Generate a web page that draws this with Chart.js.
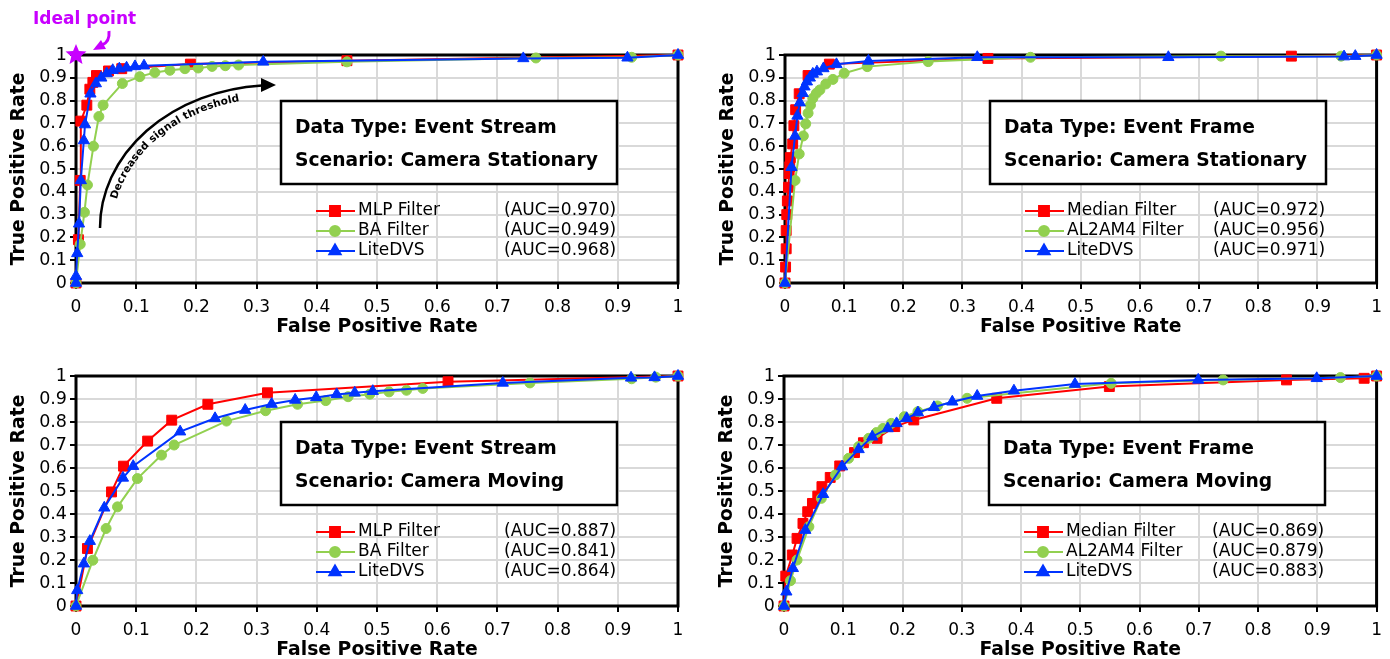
<!DOCTYPE html>
<html>
<head>
<meta charset="utf-8">
<script src="https://cdn.jsdelivr.net/npm/chart.js@4.4.1/dist/chart.umd.min.js"></script>
<style>
  html, body { margin: 0; padding: 0; background: #fff; overflow: hidden; }
  .panel { position: absolute; }
</style>
</head>
<body>
<canvas id="c1" class="panel" width="695" height="340" style="left:0;top:0"></canvas>
<canvas id="c2" class="panel" width="695" height="340" style="left:695px;top:0"></canvas>
<canvas id="c3" class="panel" width="695" height="323" style="left:0;top:340px"></canvas>
<canvas id="c4" class="panel" width="695" height="323" style="left:695px;top:340px"></canvas>
<script>
const tickLabels = ['0', '0.1', '0.2', '0.3', '0.4', '0.5', '0.6', '0.7', '0.8', '0.9', '1'];

// Event Stream, camera stationary
const s1MlpFpr = [0, 0.004, 0.007, 0.008, 0.018, 0.023, 0.028, 0.034, 0.054, 0.076, 0.19, 0.45, 1];
const s1MlpTpr = [0, 0.19, 0.45, 0.71, 0.78, 0.85, 0.88, 0.91, 0.93, 0.94, 0.96, 0.975, 1];
const s1BaFpr = [0, 0.007, 0.014, 0.019, 0.029, 0.038, 0.045, 0.077, 0.106, 0.131, 0.156, 0.181, 0.203, 0.226, 0.248, 0.27, 0.45, 0.764, 0.923, 1];
const s1BaTpr = [0, 0.17, 0.31, 0.43, 0.60, 0.73, 0.78, 0.875, 0.905, 0.923, 0.933, 0.94, 0.943, 0.95, 0.953, 0.956, 0.97, 0.987, 0.99, 1];
const s1LiteFpr = [0, 0, 0.002, 0.005, 0.008, 0.013, 0.015, 0.024, 0.033, 0.042, 0.051, 0.061, 0.072, 0.084, 0.098, 0.113, 0.311, 0.743, 0.916, 1];
const s1LiteTpr = [0, 0.03, 0.13, 0.26, 0.45, 0.625, 0.695, 0.83, 0.875, 0.90, 0.919, 0.933, 0.94, 0.944, 0.95, 0.953, 0.97, 0.985, 0.988, 1];
const s1Names = ['MLP Filter', 'BA Filter', 'LiteDVS'];
const s1Auc = ['(AUC=0.970)', '(AUC=0.949)', '(AUC=0.968)'];

// Event Frame, camera stationary
const f1MedFpr = [0, 0.001, 0.002, 0.002, 0.003, 0.004, 0.006, 0.007, 0.008, 0.009, 0.013, 0.015, 0.018, 0.024, 0.039, 0.075, 0.343, 0.856, 1];
const f1MedTpr = [0, 0.07, 0.15, 0.23, 0.30, 0.36, 0.42, 0.48, 0.51, 0.55, 0.61, 0.69, 0.76, 0.83, 0.91, 0.96, 0.985, 0.995, 1];
const f1AlFpr = [0, 0.017, 0.024, 0.031, 0.035, 0.039, 0.043, 0.047, 0.053, 0.059, 0.069, 0.081, 0.100, 0.139, 0.242, 0.415, 0.737, 0.94, 1];
const f1AlTpr = [0, 0.45, 0.566, 0.645, 0.698, 0.745, 0.78, 0.81, 0.832, 0.847, 0.873, 0.893, 0.92, 0.949, 0.971, 0.99, 0.995, 0.995, 1];
const f1LiteFpr = [0, 0.011, 0.017, 0.021, 0.025, 0.03, 0.033, 0.037, 0.042, 0.047, 0.054, 0.065, 0.087, 0.141, 0.325, 0.648, 0.945, 0.964, 1];
const f1LiteTpr = [0, 0.508, 0.645, 0.733, 0.791, 0.832, 0.861, 0.883, 0.90, 0.917, 0.927, 0.941, 0.959, 0.974, 0.99, 0.99, 0.993, 0.995, 1];
const f1Names = ['Median Filter', 'AL2AM4 Filter', 'LiteDVS'];
const f1Auc = ['(AUC=0.972)', '(AUC=0.956)', '(AUC=0.971)'];

// Event Stream, camera moving
const s2MlpFpr = [0, 0.019, 0.059, 0.079, 0.119, 0.159, 0.219, 0.318, 0.618, 1];
const s2MlpTpr = [0, 0.25, 0.496, 0.608, 0.717, 0.808, 0.877, 0.927, 0.975, 1];
const s2BaFpr = [0, 0.028, 0.05, 0.069, 0.102, 0.142, 0.163, 0.25, 0.315, 0.368, 0.415, 0.452, 0.488, 0.52, 0.549, 0.576, 0.754, 0.923, 0.963, 1];
const s2BaTpr = [0, 0.199, 0.337, 0.431, 0.554, 0.656, 0.70, 0.804, 0.849, 0.877, 0.893, 0.91, 0.921, 0.931, 0.938, 0.946, 0.97, 0.988, 0.995, 1];
const s2LiteFpr = [0, 0.002, 0.013, 0.023, 0.047, 0.078, 0.095, 0.173, 0.231, 0.281, 0.325, 0.364, 0.399, 0.433, 0.463, 0.493, 0.709, 0.922, 0.961, 1];
const s2LiteTpr = [0, 0.068, 0.184, 0.282, 0.427, 0.557, 0.608, 0.758, 0.816, 0.852, 0.878, 0.896, 0.907, 0.92, 0.927, 0.934, 0.97, 0.992, 0.994, 1];
const s2Names = ['MLP Filter', 'BA Filter', 'LiteDVS'];
const s2Auc = ['(AUC=0.887)', '(AUC=0.841)', '(AUC=0.864)'];

// Event Frame, camera moving
const f2MedFpr = [0, 0.003, 0.014, 0.022, 0.032, 0.04, 0.048, 0.057, 0.064, 0.078, 0.094, 0.119, 0.134, 0.157, 0.187, 0.219, 0.359, 0.549, 0.848, 0.979, 1];
const f2MedTpr = [0, 0.13, 0.222, 0.294, 0.359, 0.41, 0.446, 0.478, 0.519, 0.559, 0.609, 0.667, 0.71, 0.729, 0.78, 0.809, 0.903, 0.954, 0.983, 0.99, 1];
const f2AlFpr = [0, 0.011, 0.022, 0.042, 0.063, 0.087, 0.109, 0.126, 0.143, 0.156, 0.167, 0.181, 0.203, 0.226, 0.259, 0.309, 0.552, 0.741, 0.939, 1];
const f2AlTpr = [0, 0.11, 0.2, 0.345, 0.468, 0.57, 0.642, 0.693, 0.729, 0.754, 0.772, 0.794, 0.823, 0.845, 0.87, 0.903, 0.968, 0.983, 0.993, 1];
const f2LiteFpr = [0, 0.004, 0.015, 0.036, 0.066, 0.098, 0.126, 0.149, 0.175, 0.19, 0.207, 0.226, 0.253, 0.284, 0.326, 0.388, 0.491, 0.699, 0.899, 1];
const f2LiteTpr = [0, 0.062, 0.164, 0.33, 0.486, 0.606, 0.681, 0.736, 0.772, 0.794, 0.816, 0.841, 0.864, 0.888, 0.913, 0.936, 0.965, 0.983, 0.99, 1];
const f2Names = ['Median Filter', 'AL2AM4 Filter', 'LiteDVS'];
const f2Auc = ['(AUC=0.869)', '(AUC=0.879)', '(AUC=0.883)'];

// Ideal point marker
const idealFpr = [0];
const idealTpr = [1];

const RED = '#ff0000';
const GREEN = '#92d050';
const BLUE = '#0033ff';
const PURPLE = '#c800ff';
const FONT = 'DejaVu Sans';

function pts(xs, ys) {
  return xs.map((x, i) => ({ x: x, y: ys[i] }));
}

function makeStar(r, color) {
  const c = document.createElement('canvas');
  c.width = c.height = 2 * r + 2;
  const g = c.getContext('2d');
  g.fillStyle = color;
  g.beginPath();
  for (let i = 0; i < 10; i++) {
    const rr = i % 2 ? r * 0.45 : r;
    const a = -Math.PI / 2 + i * Math.PI / 5;
    g.lineTo(r + 1 + rr * Math.cos(a), r + 1 + rr * Math.sin(a));
  }
  g.closePath();
  g.fill();
  return c;
}

function series(label, xs, ys, color, style, radius, order) {
  return {
    label: label,
    data: pts(xs, ys),
    borderColor: color,
    backgroundColor: color,
    pointStyle: style,
    pointRadius: radius,
    pointHoverRadius: radius,
    pointBorderWidth: 1,
    borderWidth: 2,
    showLine: true,
    tension: 0,
    clip: false,
    order: order
  };
}

function axis(titleText, isX) {
  return {
    type: 'linear',
    min: 0,
    max: 1,
    ticks: {
      stepSize: 0.1,
      autoSkip: false,
      maxRotation: 0,
      color: '#000',
      padding: isX ? 8 : 3,
      font: { family: FONT, size: isX ? 17 : 17.5 },
      callback: (v, i) => tickLabels[i]
    },
    grid: { color: '#d9d9d9', lineWidth: 2, tickColor: '#000', tickWidth: 2, tickLength: 6 },
    border: { display: false },
    title: {
      display: true,
      text: titleText,
      color: '#000',
      font: { family: FONT, size: 18.8, weight: 'bold' },
      padding: isX ? { top: 0, bottom: 2 } : { top: 8, bottom: 0 }
    },
    afterFit: (s) => {
      if (isX) s.height = 57;
      else s.width = 76;
    }
  };
}

// walk along an ellipse by arc length
function advance(t, dist, rx, ry) {
  let d = 0;
  const dt = 0.001;
  while (d < dist) {
    d += Math.hypot(rx * Math.sin(t), ry * Math.cos(t)) * dt;
    t += dt;
  }
  return t;
}

function drawArcText(ctx, text, cx, cy, rx, ry, t0) {
  let t = t0;
  ctx.textAlign = 'center';
  ctx.textBaseline = 'alphabetic';
  for (const ch of text) {
    const w = ctx.measureText(ch).width;
    t = advance(t, w / 2, rx, ry);
    const x = cx - rx * Math.cos(t);
    const y = cy - ry * Math.sin(t);
    const ang = Math.atan2(-ry * Math.cos(t), rx * Math.sin(t));
    ctx.save();
    ctx.translate(x, y);
    ctx.rotate(ang);
    ctx.fillText(ch, 0, 0);
    ctx.restore();
    t = advance(t, w / 2, rx, ry);
  }
}

const panelDeco = {
  id: 'panelDeco',
  beforeDatasetsDraw(chart, args, opts) {
    const { ctx, chartArea: a } = chart;
    ctx.save();
    ctx.strokeStyle = '#000';
    ctx.lineWidth = 3;
    ctx.strokeRect(a.left, a.top, a.right - a.left, a.bottom - a.top);

    // info box
    const bx = a.left + 205, by = a.top + 46;
    ctx.fillStyle = '#fff';
    ctx.fillRect(bx, by, 336, 83);
    ctx.lineWidth = 2.5;
    ctx.strokeRect(bx, by, 336, 83);
    ctx.fillStyle = '#000';
    ctx.font = 'bold 18.7px "' + FONT + '"';
    ctx.textAlign = 'left';
    ctx.textBaseline = 'middle';
    ctx.fillText(opts.typeText, a.left + 219, a.top + 73);
    ctx.fillText(opts.sceneText, a.left + 219, a.top + 106);

    // legend
    ctx.font = '17px "' + FONT + '"';
    const rows = [156, 176, 196];
    chart.data.datasets.slice(0, 3).forEach((ds, i) => {
      const y = a.top + rows[i];
      ctx.strokeStyle = ds.borderColor;
      ctx.lineWidth = 2;
      ctx.beginPath();
      ctx.moveTo(a.left + 240, y);
      ctx.lineTo(a.left + 279, y);
      ctx.stroke();
      ctx.fillStyle = ds.backgroundColor;
      Chart.helpers.drawPoint(ctx, { pointStyle: ds.pointStyle, radius: ds.pointRadius, rotation: 0, borderWidth: 1 }, a.left + 259, y);
      ctx.fillStyle = '#000';
      ctx.fillText(opts.names[i], a.left + 282, y);
      ctx.fillText(opts.aucs[i], a.left + 428, y);
    });
    ctx.restore();
  },
  afterDraw(chart, args, opts) {
    if (!opts.annot) return;
    const { ctx, chartArea: a } = chart;
    ctx.save();
    // curved threshold arrow
    const cx = a.left + 199, cy = a.top + 173;
    ctx.strokeStyle = '#000';
    ctx.lineWidth = 2.5;
    ctx.beginPath();
    ctx.ellipse(cx, cy, 175, 143, 0, Math.PI, Math.PI * 1.476);
    ctx.stroke();
    ctx.fillStyle = '#000';
    ctx.beginPath();
    ctx.moveTo(cx + 1, cy - 143);
    ctx.lineTo(cx - 14, cy - 150);
    ctx.lineTo(cx - 14, cy - 136);
    ctx.closePath();
    ctx.fill();
    ctx.font = 'bold 10.5px "' + FONT + '"';
    drawArcText(ctx, 'Decreased signal threshold', cx, cy, 162, 130, 0.22);

    // ideal point label and arrow
    ctx.fillStyle = PURPLE;
    ctx.strokeStyle = PURPLE;
    ctx.font = 'bold 17px "' + FONT + '"';
    ctx.textAlign = 'left';
    ctx.textBaseline = 'middle';
    ctx.fillText('Ideal point', a.left - 43, a.top - 35);
    ctx.lineWidth = 3;
    ctx.beginPath();
    ctx.moveTo(a.left + 33, a.top - 24);
    ctx.quadraticCurveTo(a.left + 34, a.top - 13, a.left + 26, a.top - 10);
    ctx.stroke();
    ctx.beginPath();
    ctx.moveTo(a.left + 17, a.top - 5);
    ctx.lineTo(a.left + 25, a.top - 15);
    ctx.lineTo(a.left + 30, a.top - 6);
    ctx.closePath();
    ctx.fill();
    ctx.restore();
  }
};

function makePanel(id, pad, sets, deco) {
  new Chart(document.getElementById(id), {
    type: 'scatter',
    data: { datasets: sets },
    options: {
      responsive: false,
      animation: false,
      layout: { padding: pad },
      scales: {
        x: axis('False Positive Rate', true),
        y: axis('True Positive Rate', false)
      },
      plugins: {
        legend: { display: false },
        tooltip: { enabled: false },
        panelDeco: deco
      }
    },
    plugins: [panelDeco]
  });
}

const starImg = makeStar(11, PURPLE);

makePanel('c1', { left: 0, top: 55, right: 17, bottom: 0 }, [
  series(s1Names[0], s1MlpFpr, s1MlpTpr, RED, 'rect', 7, 3),
  series(s1Names[1], s1BaFpr, s1BaTpr, GREEN, 'circle', 5, 2),
  series(s1Names[2], s1LiteFpr, s1LiteTpr, BLUE, 'triangle', 6.5, 1),
  { label: 'Ideal point', data: pts(idealFpr, idealTpr), pointStyle: starImg, pointRadius: 11, showLine: false, clip: false, order: 0 }
], { typeText: 'Data Type: Event Stream', sceneText: 'Scenario: Camera Stationary', names: s1Names, aucs: s1Auc, annot: true });

makePanel('c2', { left: 14, top: 55, right: 7, bottom: 0 }, [
  series(f1Names[0], f1MedFpr, f1MedTpr, RED, 'rect', 7, 3),
  series(f1Names[1], f1AlFpr, f1AlTpr, GREEN, 'circle', 5, 2),
  series(f1Names[2], f1LiteFpr, f1LiteTpr, BLUE, 'triangle', 6.5, 1)
], { typeText: 'Data Type: Event Frame', sceneText: 'Scenario: Camera Stationary', names: f1Names, aucs: f1Auc });

makePanel('c3', { left: 0, top: 36, right: 17, bottom: 0 }, [
  series(s2Names[0], s2MlpFpr, s2MlpTpr, RED, 'rect', 7, 3),
  series(s2Names[1], s2BaFpr, s2BaTpr, GREEN, 'circle', 5, 2),
  series(s2Names[2], s2LiteFpr, s2LiteTpr, BLUE, 'triangle', 6.5, 1)
], { typeText: 'Data Type: Event Stream', sceneText: 'Scenario: Camera Moving', names: s2Names, aucs: s2Auc });

makePanel('c4', { left: 13, top: 36, right: 6, bottom: 0 }, [
  series(f2Names[0], f2MedFpr, f2MedTpr, RED, 'rect', 7, 3),
  series(f2Names[1], f2AlFpr, f2AlTpr, GREEN, 'circle', 5, 2),
  series(f2Names[2], f2LiteFpr, f2LiteTpr, BLUE, 'triangle', 6.5, 1)
], { typeText: 'Data Type: Event Frame', sceneText: 'Scenario: Camera Moving', names: f2Names, aucs: f2Auc });
</script>
</body>
</html>
